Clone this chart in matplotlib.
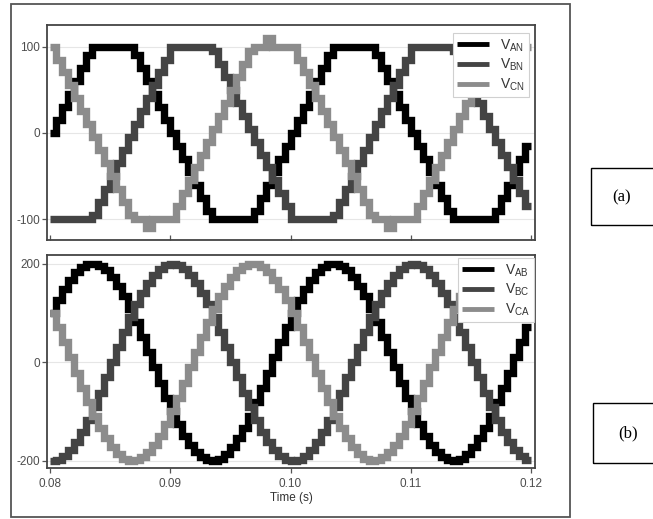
import numpy as np
import matplotlib
matplotlib.use("Agg")
import matplotlib.pyplot as plt
from matplotlib.patches import Rectangle

plt.rcParams['font.family'] = ['Liberation Sans', 'DejaVu Sans']
plt.rcParams['mathtext.default'] = 'regular'

# sample step of the staircase (s), one period = 40 samples, two periods shown
t_step = 0.0005
t_start = 0.08
n_cycles = 2

# phase voltages, one period
v_an = [0, 15, 30, 45, 60, 75, 90, 100, 100, 100, 100, 100, 100, 100, 90, 75, 60, 45, 30, 15,
        0, -15, -30, -45, -60, -75, -90, -100, -100, -100, -100, -100, -100, -100, -90, -75, -60, -45, -30, -15]
v_bn = [-100, -100, -100, -100, -100, -100, -100, -95, -80, -65, -50, -35, -20, -5, 10, 25, 40, 55, 70, 85,
        100, 100, 100, 100, 100, 100, 100, 95, 80, 65, 50, 35, 20, 5, -10, -25, -40, -55, -70, -85]
v_cn = [100, 85, 70, 55, 40, 25, 10, -5, -20, -35, -50, -65, -80, -95, -100, -100, -110, -100, -100, -100,
        -100, -85, -70, -55, -40, -25, -10, 5, 20, 35, 50, 65, 80, 95, 100, 100, 110, 100, 100, 100]

# line voltages, one period
v_ab = [100, 126, 149, 168, 183, 193, 199, 200, 196, 187, 173, 155, 134, 109, 81, 52, 21, -10, -42, -72,
        -100, -126, -149, -168, -183, -193, -199, -200, -196, -187, -173, -155, -134, -109, -81, -52, -21, 10, 42, 72]
v_bc = [-200, -198, -190, -178, -162, -141, -118, -91, -62, -31, 0, 31, 62, 91, 118, 141, 162, 178, 190, 198,
        200, 198, 190, 178, 162, 141, 118, 91, 62, 31, 0, -31, -62, -91, -118, -141, -162, -178, -190, -198]
v_ca = [100, 72, 42, 10, -21, -52, -81, -109, -134, -155, -173, -187, -196, -200, -199, -193, -183, -168, -149, -126,
        -100, -72, -42, -10, 21, 52, 81, 109, 134, 155, 173, 187, 196, 200, 199, 193, 183, 168, 149, 126]

phase_labels = [r'V$_{AN}$', r'V$_{BN}$', r'V$_{CN}$']
line_labels = [r'V$_{AB}$', r'V$_{BC}$', r'V$_{CA}$']
colors = ['#000000', '#444444', '#8c8c8c']

x_ticks = [0.08, 0.09, 0.10, 0.11, 0.12]
x_tick_labels = ['0.08', '0.09', '0.10', '0.11', '0.12']
top_ticks = [-100, 0, 100]
bottom_ticks = [-200, 0, 200]


def staircase(values):
    v = np.tile(np.array(values, dtype=float), n_cycles)
    t = t_start + t_step * np.arange(len(v))
    # close the last step at the axis end
    t = np.append(t, t_start + t_step * len(v))
    v = np.append(v, v[-1])
    return t, v


def style_axes(ax, yticks, ylim):
    ax.set_xlim(0.07975, 0.12033)
    ax.set_ylim(*ylim)
    ax.set_yticks(yticks)
    ax.set_yticklabels([str(y) for y in yticks])
    ax.set_xticks(x_ticks)
    ax.grid(axis='y', color='#e6e6e6', lw=0.8)
    ax.set_axisbelow(True)
    for s in ax.spines.values():
        s.set_color('#444444')
        s.set_linewidth(1.3)
    ax.tick_params(colors='#555555', labelcolor='#4d4d4d', labelsize=8.5, length=3.5, width=0.9, pad=1.5)


fig = plt.figure(figsize=(6.53, 5.19), dpi=100)
ax1 = fig.add_axes([47 / 653, 1 - 240 / 519, 488 / 653, 215 / 519])
ax2 = fig.add_axes([47 / 653, 1 - 468 / 519, 488 / 653, 213 / 519])

for vals, lab, c in zip([v_an, v_bn, v_cn], phase_labels, colors):
    t, v = staircase(vals)
    ax1.plot(t, v, drawstyle='steps-post', color=c, lw=5.3, label=lab,
             solid_joinstyle='miter', solid_capstyle='butt')
for vals, lab, c in zip([v_ab, v_bc, v_ca], line_labels, colors):
    t, v = staircase(vals)
    ax2.plot(t, v, drawstyle='steps-post', color=c, lw=5.3, label=lab,
             solid_joinstyle='miter', solid_capstyle='butt')

style_axes(ax1, top_ticks, (-124, 125))
ax1.set_xticklabels([])
ax1.tick_params(axis='x', direction='in')
style_axes(ax2, bottom_ticks, (-215, 218))
ax2.set_xticklabels(x_tick_labels)
ax2.tick_params(axis='x', pad=4)
ax2.set_xlabel('Time (s)', fontsize=8.5, color='#333333', labelpad=1)

for ax, anchor in [(ax1, (0.988, 0.963)), (ax2, (0.998, 0.986))]:
    leg = ax.legend(loc='upper right', bbox_to_anchor=anchor, borderaxespad=0, fontsize=10,
                    frameon=True, fancybox=False, framealpha=1, edgecolor='#d0d0d0',
                    handlelength=2.3, handletextpad=0.8, labelspacing=0.25, borderpad=0.3)
    leg.get_frame().set_linewidth(0.8)
    for h in leg.get_lines():
        h.set_linewidth(3.5)
    for txt in leg.get_texts():
        txt.set_color('#333333')

# outer frame and panel tags
fig.add_artist(Rectangle((11 / 653, 1 - 517 / 519), 559 / 653, 513 / 519, transform=fig.transFigure,
                         fill=False, ec='#555555', lw=1.3))
fig.add_artist(Rectangle((591 / 653, 1 - 225 / 519), 70 / 653, 57 / 519, transform=fig.transFigure,
                         fill=False, ec='black', lw=1.0))
fig.add_artist(Rectangle((593 / 653, 1 - 463 / 519), 70 / 653, 60 / 519, transform=fig.transFigure,
                         fill=False, ec='black', lw=1.0))
fig.text(622 / 653, 1 - 197 / 519, '(a)', family='Liberation Serif', fontsize=12, ha='center', va='center')
fig.text(628 / 653, 1 - 433 / 519, '(b)', family='Liberation Serif', fontsize=12, ha='center', va='center')

fig.savefig('out.png', dpi=100)
